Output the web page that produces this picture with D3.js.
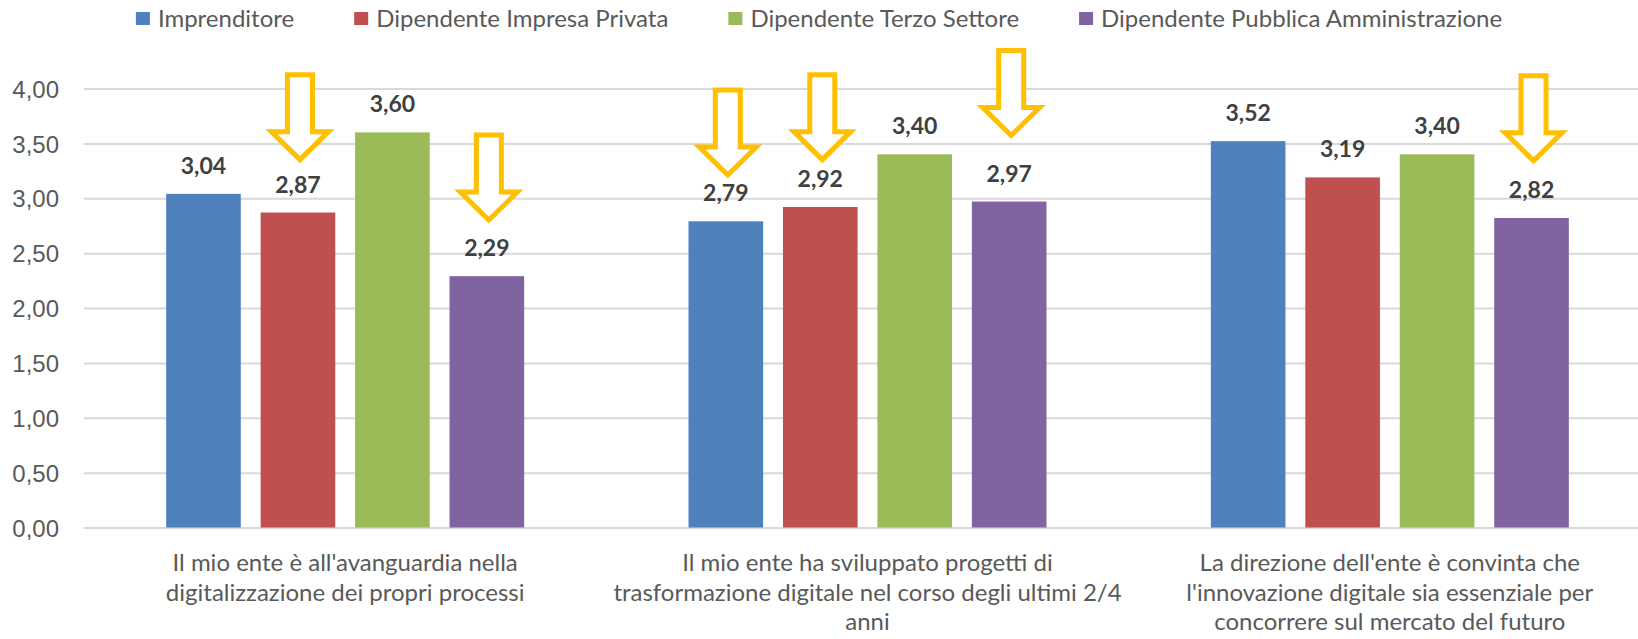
<!DOCTYPE html>
<meta charset="utf-8">
<style>
body { margin: 0; background: #fff; }
svg { display: block; font-family: Lato, "Open Sans", sans-serif; }
.grid line { stroke: #d9d9d9; stroke-width: 2px; }
.grid text { fill: #595959; font-size: 24px; }
.cat text { fill: #595959; font-size: 24px; }
.val { fill: #404040; font-size: 23px; font-weight: bold; }
.legend text { fill: #595959; font-size: 24px; }
.arrow { fill: #fff; stroke: #ffc000; stroke-width: 5px; stroke-linejoin: miter; }
</style>
<body>
<script src="https://d3js.org/d3.v7.min.js"></script>
<script>

var categories = [
  ["Il mio ente è all'avanguardia nella", "digitalizzazione dei propri processi"],
  ["Il mio ente ha sviluppato progetti di", "trasformazione digitale nel corso degli ultimi 2/4", "anni"],
  ["La direzione dell'ente è convinta che", "l'innovazione digitale sia essenziale per", "concorrere sul mercato del futuro"]
];
var series = ["Imprenditore", "Dipendente Impresa Privata", "Dipendente Terzo Settore", "Dipendente Pubblica Amministrazione"];
var colors = ["#4f81bd", "#c0504d", "#9bbb59", "#8064a2"];

// values per series, one entry per category
var imprenditore = [3.04, 2.79, 3.52];
var impresaPrivata = [2.87, 2.92, 3.19];
var terzoSettore = [3.60, 3.40, 3.40];
var pubblicaAmm = [2.29, 2.97, 2.82];
var values = [imprenditore, impresaPrivata, terzoSettore, pubblicaAmm];

var yTicks = [0, 0.5, 1, 1.5, 2, 2.5, 3, 3.5, 4];

// highlight arrows: [category, series, value at arrow tip]
var arrows = [[0, 1, 3.32], [0, 3, 2.77], [1, 0, 3.18], [1, 1, 3.32], [1, 3, 3.54], [2, 3, 3.31]];

var width = 1638, height = 639;

var svg = d3.select("body").append("svg")
    .attr("width", width)
    .attr("height", height);

var y = d3.scaleLinear().domain([0, 4]).range([527.5, 88.5]);

var x0 = d3.scaleBand().domain(d3.range(categories.length)).range([84, 1651]);
var x1 = d3.scaleBand().domain(d3.range(series.length)).range([0, 358]).paddingInner(0.21);

var fmt = function(d) { return d3.format(".2f")(d).replace(".", ","); };

var grid = svg.append("g")
    .attr("class", "grid")
    .attr("transform", "translate(84,0)")
    .call(d3.axisLeft(y).tickValues(yTicks).tickFormat(fmt)
        .tickSize(-(width - 84)).tickPadding(25));
grid.select(".domain").remove();
grid.selectAll("text").attr("dy", "0.36em");

var groups = svg.append("g").selectAll("g")
    .data(categories)
    .enter().append("g")
    .attr("transform", function(d, i) {
      return "translate(" + (x0(i) + x0.bandwidth() / 2 - 179) + ",0)";
    });

groups.selectAll("rect")
    .data(function(d, i) { return values.map(function(v, s) { return {s: s, v: v[i]}; }); })
    .enter().append("rect")
    .attr("x", function(d) { return x1(d.s); })
    .attr("width", x1.bandwidth())
    .attr("y", function(d) { return y(d.v); })
    .attr("height", function(d) { return y(0) - y(d.v); })
    .attr("fill", function(d) { return colors[d.s]; });

groups.selectAll("text.val")
    .data(function(d, i) { return values.map(function(v, s) { return {s: s, v: v[i]}; }); })
    .enter().append("text")
    .attr("class", "val")
    .attr("text-anchor", "middle")
    .attr("x", function(d) { return x1(d.s) + x1.bandwidth() / 2; })
    .attr("y", function(d) { return y(d.v) - 20; })
    .text(function(d) { return fmt(d.v); });

// category labels
var cat = svg.append("g").attr("class", "cat");
categories.forEach(function(lines, i) {
  cat.append("text")
      .attr("text-anchor", "middle")
      .attr("x", x0(i) + x0.bandwidth() / 2)
      .attr("y", 571)
    .selectAll("tspan")
    .data(lines)
    .enter().append("tspan")
      .attr("x", x0(i) + x0.bandwidth() / 2)
      .attr("dy", function(d, k) { return k ? 29.5 : 0; })
      .text(function(d) { return d; });
});

// arrows
svg.append("g").selectAll("path")
    .data(arrows)
    .enter().append("path")
    .attr("class", "arrow")
    .attr("d", function(d) {
      var cx = x0(d[0]) + x0.bandwidth() / 2 - 179 + x1(d[1]) + x1.bandwidth() / 2 + 2;
      var tip = y(d[2]) - 3.5;
      var top = tip - 85, base = tip - 28;
      return "M" + (cx - 12.5) + "," + top + "H" + (cx + 12.5) + "V" + base +
        "H" + (cx + 28.5) + "L" + cx + "," + tip + "L" + (cx - 28.5) + "," + base +
        "H" + (cx - 12.5) + "Z";
    });

// legend
var legend = svg.append("g").attr("class", "legend");
var items = legend.selectAll("g")
    .data(series)
    .enter().append("g");
items.append("rect")
    .attr("width", 14).attr("height", 13)
    .attr("y", 12)
    .attr("fill", function(d, i) { return colors[i]; });
items.append("text")
    .attr("x", 22)
    .attr("y", 26.5)
    .text(function(d) { return d; });

var pos = 0, offsets = [];
items.each(function() {
  offsets.push(pos);
  pos += 22 + d3.select(this).select("text").node().getComputedTextLength() + 60;
});
var total = pos - 60;
var start = (width - total) / 2;
items.attr("transform", function(d, i) { return "translate(" + (start + offsets[i]) + ",0)"; });

</script>
</body>
